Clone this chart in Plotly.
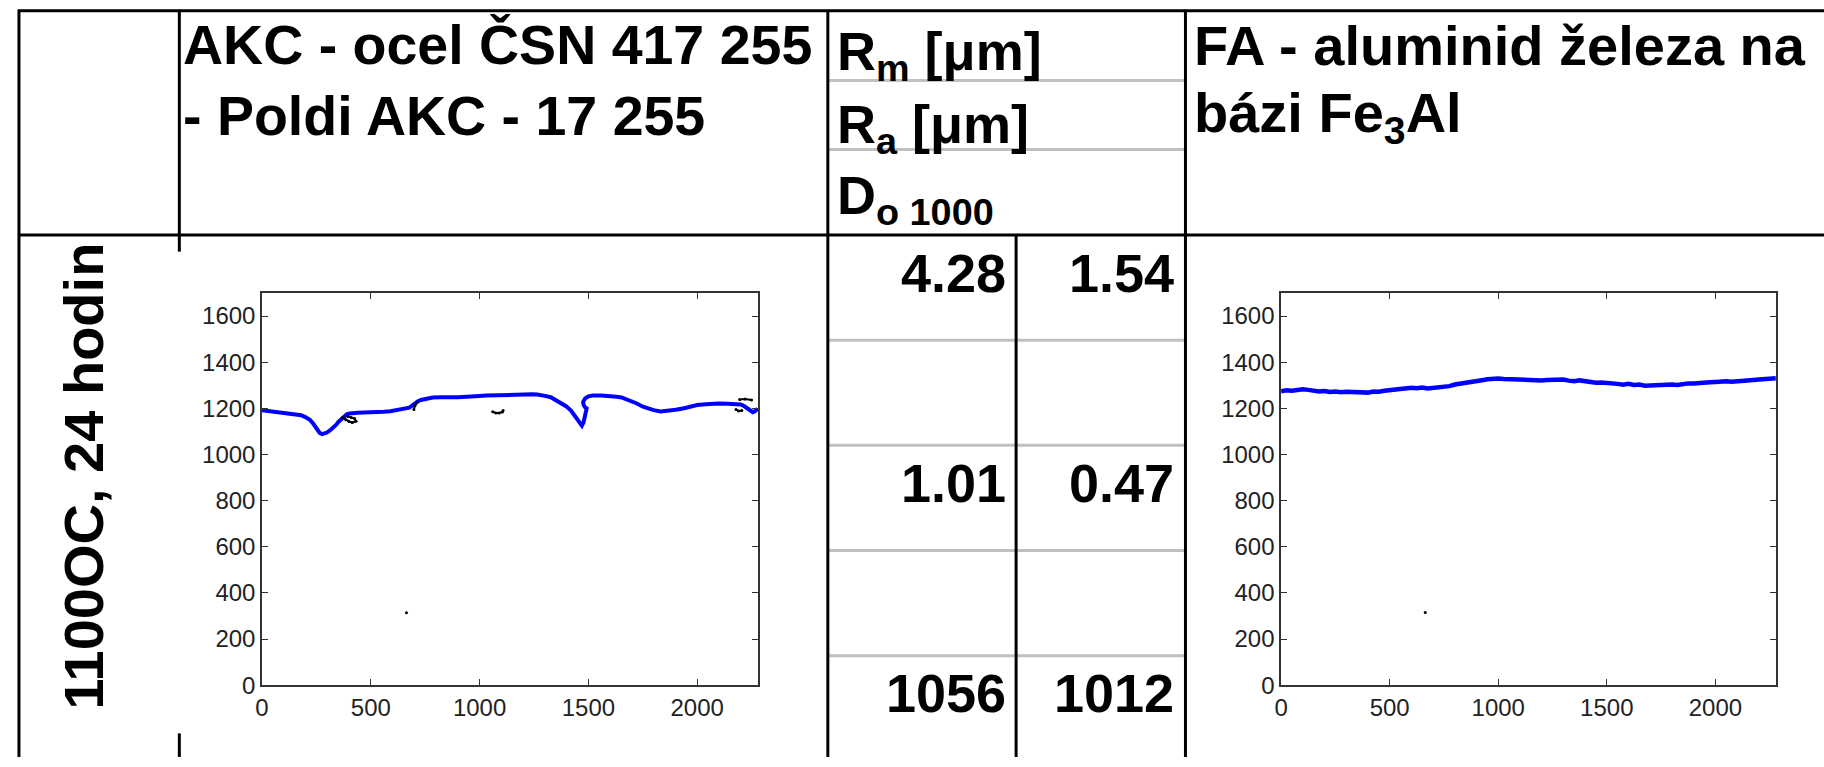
import plotly.graph_objects as go

W, H = 1824, 767

# ---------------- data ----------------
# AKC - steel profile (blue line)
akc_x = [0, 30, 60, 90, 117, 150, 180, 199, 220, 235, 245, 253, 265, 276, 288, 298, 312, 325, 340, 352,
         362, 370, 380, 390, 402, 415, 440, 470, 500, 530, 560, 590, 605, 630, 660, 677, 690, 704, 715, 730,
         749, 770, 785, 820, 860, 900, 940, 966, 1000, 1030, 1056, 1090, 1120, 1146, 1180, 1210, 1240, 1265,
         1282, 1300, 1327, 1350, 1375, 1399, 1420, 1440, 1455, 1462, 1470, 1478, 1482, 1486, 1492, 1484, 1478,
         1476, 1485, 1500, 1520, 1560, 1601, 1630, 1652, 1675, 1700, 1720, 1751, 1775, 1800, 1832, 1860, 1901,
         1940, 1970, 2000, 2040, 2070, 2099, 2140, 2170, 2200, 2215, 2229, 2242, 2256, 2265, 2278]
akc_y = [1192, 1188, 1186, 1183, 1180, 1176, 1170, 1162, 1150, 1134, 1118, 1104, 1093, 1088, 1090, 1095, 1104,
         1114, 1128, 1142, 1152, 1160, 1168, 1174, 1178, 1180, 1181, 1182, 1182, 1183, 1185, 1187, 1190, 1195,
         1200, 1203, 1212, 1225, 1230, 1236, 1240, 1244, 1247, 1248, 1247, 1248, 1250, 1250, 1253, 1255, 1256,
         1259, 1260, 1261, 1261, 1261, 1261, 1260, 1259, 1254, 1248, 1236, 1222, 1208, 1190, 1166, 1145, 1133,
         1125, 1140, 1160, 1182, 1200, 1205, 1215, 1228, 1243, 1252, 1255, 1255, 1254, 1250, 1247, 1240, 1232,
         1222, 1207, 1198, 1192, 1186, 1188, 1194, 1200, 1207, 1214, 1218, 1220, 1221, 1220, 1219, 1217, 1210,
         1199, 1190, 1183, 1187, 1198]

# AKC - small black features (None separates fragments)
akc_black_x = [370, 385, 400, 415, 432, 425, 410, 395, None,
               698, 703, 712, None,
               1060, 1075, 1090, 1105, 1108, None,
               2195, 2220, 2250, None,
               2178, 2190, 2205, None,
               664]
akc_black_y = [1160, 1150, 1143, 1138, 1144, 1156, 1160, 1165, None,
               1195, 1212, 1224, None,
               1185, 1180, 1180, 1184, 1190, None,
               1238, 1240, 1236, None,
               1195, 1188, 1190, None,
               314]

# FA - iron aluminide profile (blue line)
fa_x = [0, 25, 50, 75, 100, 125, 150, 175, 200, 225, 250, 275, 300, 325, 350, 375, 400, 425, 450, 475, 500,
        525, 550, 575, 600, 625, 650, 675, 700, 725, 750, 775, 800, 825, 850, 875, 900, 925, 950, 975, 1000,
        1025, 1050, 1075, 1100, 1125, 1150, 1175, 1200, 1225, 1250, 1275, 1300, 1325, 1350, 1375, 1400, 1425,
        1450, 1475, 1500, 1525, 1550, 1575, 1600, 1625, 1650, 1675, 1700, 1725, 1750, 1775, 1800, 1825, 1850,
        1875, 1900, 1925, 1950, 1975, 2000, 2025, 2050, 2075, 2100, 2125, 2150, 2175, 2200, 2225, 2250, 2278]
fa_y = [1274, 1278, 1276, 1280, 1283, 1280, 1276, 1273, 1275, 1271, 1273, 1270, 1272, 1271, 1273, 1270, 1268,
        1273, 1272, 1276, 1279, 1281, 1285, 1288, 1289, 1287, 1290, 1286, 1289, 1292, 1291, 1296, 1303, 1306,
        1310, 1315, 1318, 1322, 1326, 1328, 1329, 1327, 1326, 1327, 1325, 1326, 1322, 1320, 1321, 1323, 1325,
        1324, 1325, 1320, 1317, 1321, 1318, 1313, 1311, 1312, 1311, 1309, 1306, 1302, 1306, 1301, 1303, 1298,
        1299, 1302, 1300, 1304, 1303, 1301, 1306, 1308, 1308, 1311, 1310, 1313, 1314, 1316, 1317, 1315, 1318,
        1321, 1320, 1323, 1325, 1328, 1331, 1330]
fa_black_x = [664]
fa_black_y = [315]

x_ticks = [0, 500, 1000, 1500, 2000]
y_ticks = [0, 200, 400, 600, 800, 1000, 1200, 1400, 1600]

header_left = ["AKC - ocel ČSN 417 255", "- Poldi AKC - 17 255"]
header_mid = ["R<sub>m</sub> [μm]", "R<sub>a</sub> [μm]", "D<sub>o 1000</sub>"]
header_right = ["FA - aluminid železa na", "bázi Fe<sub>3</sub>Al"]
row_label = "1100OC, 24 hodin"
vals_akc = ["4.28", "1.01", "1056"]
vals_fa = ["1.54", "0.47", "1012"]

# ---------------- helpers ----------------
def X(px):
    return px / W

def Y(py):
    return 1 - py / H

BOLD = "Liberation Sans, Arial, sans-serif"
TICKF = dict(family="Liberation Sans Narrow, Liberation Sans, Arial Narrow, sans-serif", size=24, color="#222")

fig = go.Figure()
fig.add_trace(go.Scatter(x=akc_x, y=akc_y, mode="lines", line=dict(color="#0000ff", width=4),
                         xaxis="x", yaxis="y", hoverinfo="skip"))
fig.add_trace(go.Scatter(x=akc_black_x, y=akc_black_y, mode="lines+markers", connectgaps=False,
                         line=dict(color="black", width=2), marker=dict(color="black", size=3),
                         xaxis="x", yaxis="y", hoverinfo="skip"))
fig.add_trace(go.Scatter(x=fa_x, y=fa_y, mode="lines", line=dict(color="#0000ff", width=4.5),
                         xaxis="x2", yaxis="y2", hoverinfo="skip"))
fig.add_trace(go.Scatter(x=fa_black_x, y=fa_black_y, mode="markers", marker=dict(color="black", size=3),
                         xaxis="x2", yaxis="y2", hoverinfo="skip"))

def axis_style(domain, rng, ticks, anchor):
    return dict(domain=domain, range=rng, tickvals=ticks, ticks="inside", ticklen=6, tickwidth=1.2,
                tickcolor="#333", mirror="ticks", showline=True, linecolor="#333", linewidth=1.5,
                showgrid=False, zeroline=False, tickfont=TICKF, anchor=anchor, fixedrange=True)

ytop, ybot = 298, 697
layout = dict(
    width=W, height=H, margin=dict(l=0, r=0, t=0, b=0),
    paper_bgcolor="white", plot_bgcolor="white", showlegend=False,
    xaxis=axis_style([X(256), X(754)], [0, 2280], x_ticks, "y"),
    yaxis=axis_style([Y(ybot), Y(ytop)], [0, 1700], y_ticks, "x"),
    xaxis2=axis_style([X(1279), X(1776)], [0, 2280], x_ticks, "y2"),
    yaxis2=axis_style([Y(ybot), Y(ytop)], [0, 1700], y_ticks, "x2"),
)
fig.update_layout(**layout)

# ---------------- table lines ----------------
shapes = []
def hline(y, x0, x1, color="black", w=3):
    shapes.append(dict(type="line", xref="paper", yref="paper", x0=X(x0), x1=X(x1), y0=Y(y), y1=Y(y),
                       line=dict(color=color, width=w)))
def vline(x, y0, y1, color="black", w=3):
    shapes.append(dict(type="line", xref="paper", yref="paper", x0=X(x), x1=X(x), y0=Y(y0), y1=Y(y1),
                       line=dict(color=color, width=w)))

for gy in [82, 152, 346, 453, 560, 667]:
    hline(gy, 825, 1182, color="#c0c0c0", w=3)
hline(11, 11, 1830)
hline(239, 11, 1830)
vline(12, 10, 770)
vline(173, 10, 256)
vline(173, 746, 770)
vline(824, 10, 770)
vline(1183, 10, 770)
vline(1013, 239, 770)
fig.update_layout(shapes=shapes)

# ---------------- texts ----------------
ann = []
def text(t, x, y, size=54, xanchor="left", angle=0):
    ann.append(dict(text=t, x=X(x), y=Y(y), xref="paper", yref="paper",
                    xanchor=xanchor, yanchor="middle", showarrow=False, textangle=angle,
                    font=dict(family=BOLD, size=size, color="black", weight="bold")))

text(header_left[0], 175, 46, size=55.5)
text(header_left[1], 175, 118, size=55.5)
text(header_mid[0], 831, 56, size=54)
text(header_mid[1], 831, 130, size=54)
text(header_mid[2], 831, 202, size=54)
text(header_right[0], 1190, 46, size=56)
text(header_right[1], 1190, 118, size=56)
text(row_label, 77, 484, size=56, xanchor="center", angle=-90)
for v, yy in zip(vals_akc, [278, 491, 705]):
    text(v, 1005, yy, xanchor="right")
for v, yy in zip(vals_fa, [278, 491, 705]):
    text(v, 1174, yy, xanchor="right")
fig.update_layout(annotations=ann)

fig.write_html("out.html", config={"displayModeBar": False},
               post_script="document.body.style.margin='0';document.body.style.overflow='hidden';")
